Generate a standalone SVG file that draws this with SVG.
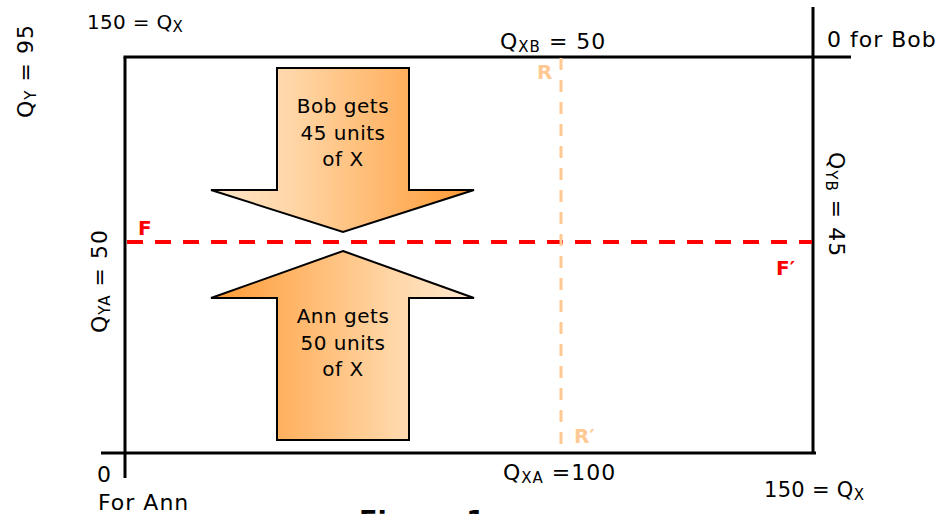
<svg xmlns="http://www.w3.org/2000/svg" width="943" height="514" viewBox="0 0 943 514">
<defs>
<linearGradient id="gDown" x1="0" y1="0" x2="1" y2="0">
<stop offset="0" stop-color="#FFE6C8"/>
<stop offset="0.3" stop-color="#FFD7A8"/>
<stop offset="1" stop-color="#FF9A33"/>
</linearGradient>
<linearGradient id="gUp" x1="0" y1="0" x2="1" y2="0">
<stop offset="0" stop-color="#FF9A33"/>
<stop offset="0.7" stop-color="#FFD7A8"/>
<stop offset="1" stop-color="#FFE8CF"/>
</linearGradient>
<style>
text{font-family:"DejaVu Sans","Verdana",sans-serif;fill:#000}
.lbl{font-size:22px;letter-spacing:1px}
.sm{font-size:20px;letter-spacing:0.3px}
.sub{font-size:15px}
.ax{stroke:#000;stroke-width:3;fill:none}
.arrow{stroke:#000;stroke-width:2;stroke-linejoin:miter}
.at{font-size:20px;letter-spacing:0.5px;text-anchor:middle}
.red{fill:#FF0000;font-weight:bold;font-size:20px}
.ltor{fill:#FFC993;font-weight:bold;font-size:20px}
</style>
</defs>

<g id="axes">
<line class="ax" x1="125" y1="57" x2="125" y2="478"/>
<line class="ax" x1="101" y1="453" x2="816" y2="453"/>
<line class="ax" x1="123.5" y1="57" x2="851" y2="57"/>
<line class="ax" x1="813" y1="7" x2="813" y2="454"/>
</g>

<g id="connectors">
<line x1="127" y1="242" x2="812" y2="242" stroke="#FF0000" stroke-width="4" stroke-dasharray="16 12"/>
<line x1="561" y1="58" x2="561" y2="452" stroke="#FFC993" stroke-width="3" stroke-dasharray="12 10"/>
</g>

<g id="bob-arrow">
<polygon class="arrow" fill="url(#gDown)" points="277,68 409,68 409,190 474,190 343,232 211,190 277,190"/>
<text class="at" x="343" y="113">Bob gets</text>
<text class="at" x="343" y="140">45 units</text>
<text class="at" x="343" y="166">of X</text>
</g>

<g id="ann-arrow">
<polygon class="arrow" fill="url(#gUp)" points="343,251 474,298 409,298 409,440 277,440 277,298 211,298"/>
<text class="at" x="343" y="323">Ann gets</text>
<text class="at" x="343" y="350">50 units</text>
<text class="at" x="343" y="376">of X</text>
</g>

<g id="points">
<text class="red" x="138" y="235">F</text>
<text class="red" x="776" y="275">F′</text>
<text class="ltor" x="537" y="79">R</text>
<text class="ltor" x="574" y="443">R′</text>
</g>

<g id="labels">
<text class="sm" x="87" y="29">150 = Q<tspan class="sub" dy="3">X</tspan></text>
<text class="lbl" transform="translate(33,118) rotate(-90)">Q<tspan class="sub" dy="3">Y</tspan><tspan dy="-3"> = 95</tspan></text>
<text class="lbl" x="500" y="49">Q<tspan class="sub" dy="3">XB</tspan><tspan dy="-3"> = 50</tspan></text>
<text class="lbl" x="827" y="47">0 for Bob</text>
<text class="lbl" transform="translate(829,152) rotate(90)">Q<tspan class="sub" dy="3">YB</tspan><tspan dy="-3"> = 45</tspan></text>
<text class="lbl" transform="translate(107,333) rotate(-90)">Q<tspan class="sub" dy="3">YA</tspan><tspan dy="-3"> = 50</tspan></text>
<text class="lbl" x="97" y="482">0</text>
<text class="lbl" x="98" y="510">For Ann</text>
<text class="lbl" x="503" y="480">Q<tspan class="sub" dy="3">XA</tspan><tspan dy="-3"> =100</tspan></text>
<text class="sm" x="764" y="497" style="font-size:21px">150 = Q<tspan class="sub" dy="3">X</tspan></text>
<text x="359" y="530" style="font-size:27px;font-weight:bold">Figure 1</text>
</g>
</svg>
